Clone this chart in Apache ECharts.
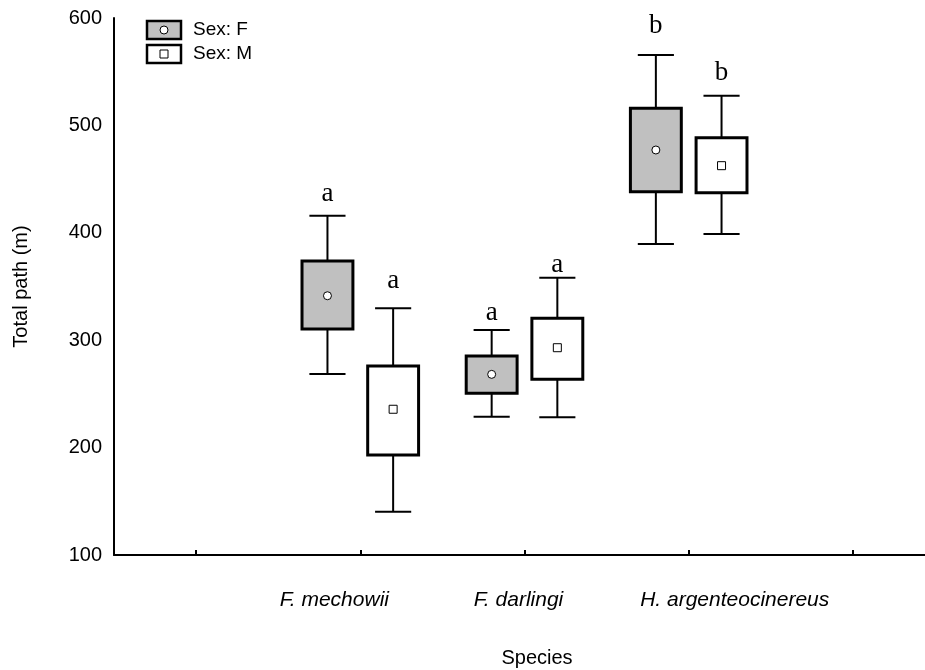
<!DOCTYPE html>
<html>
<head>
<meta charset="utf-8">
<script src="https://cdn.jsdelivr.net/npm/echarts@6/dist/echarts.min.js"></script>
<style>html,body{margin:0;padding:0;background:#fff}#c{width:925px;height:670px}</style>
</head>
<body>
<div id="c"></div>
<script>
// categories (outer empty slots carry the extra axis ticks)
const categories = ['', 'F. mechowii', 'F. darlingi', 'H. argenteocinereus', ''];
const yTicks = [100, 200, 300, 400, 500, 600];

// Sex: F  (whisker low, box low, centre, box high, whisker high)
const fLow     = [268.5, 228.8, 389.6];
const fBoxLow  = [310.4, 250.5, 438.3];
const fMid     = [341.4, 268.2, 477.1];
const fBoxHigh = [373.7, 285.3, 515.9];
const fHigh    = [415.9, 309.5, 565.5];
const fLetters = ['a', 'a', 'b'];
const fLetterY = [429.6, 318.8, 586.0];

// Sex: M
const mLow     = [140.3, 228.2, 398.9];
const mBoxLow  = [193.1, 263.6, 437.4];
const mMid     = [235.7, 293.0, 462.5];
const mBoxHigh = [276.0, 320.4, 488.6];
const mHigh    = [329.7, 358.2, 527.7];
const mLetters = ['a', 'a', 'b'];
const mLetterY = [348.6, 363.5, 542.3];

const SANS = "'Liberation Sans', Arial, sans-serif";
const SERIF = "'Liberation Serif', 'Times New Roman', serif";

function buildData(low, bl, mid, bh, high, letY) {
  return low.map((v, i) => [i + 1, low[i], bl[i], mid[i], bh[i], high[i], letY[i]]);
}

function makeRender(sign, fill, markerType, letters) {
  return function (params, api) {
    const cat = api.value(0);
    const band = api.size([1, 0])[0];
    const cx = api.coord([cat, 0])[0] + sign * band * 0.2;
    const yLow = api.coord([cat, api.value(1)])[1];
    const yBL = api.coord([cat, api.value(2)])[1];
    const yMid = api.coord([cat, api.value(3)])[1];
    const yBH = api.coord([cat, api.value(4)])[1];
    const yHigh = api.coord([cat, api.value(5)])[1];
    const yLet = api.coord([cat, api.value(6)])[1];
    const bw = band * 0.31;
    const cw = band * 0.22;
    const lineStyle = { stroke: '#000', lineWidth: 2 };
    const children = [
      { type: 'line', shape: { x1: cx, y1: yHigh, x2: cx, y2: yBH }, style: lineStyle },
      { type: 'line', shape: { x1: cx, y1: yBL, x2: cx, y2: yLow }, style: lineStyle },
      { type: 'line', shape: { x1: cx - cw / 2, y1: yHigh, x2: cx + cw / 2, y2: yHigh }, style: lineStyle },
      { type: 'line', shape: { x1: cx - cw / 2, y1: yLow, x2: cx + cw / 2, y2: yLow }, style: lineStyle },
      { type: 'rect', shape: { x: cx - bw / 2, y: yBH, width: bw, height: yBL - yBH },
        style: { fill: fill, stroke: '#000', lineWidth: 3 } }
    ];
    if (markerType === 'circle') {
      children.push({ type: 'circle', shape: { cx: cx, cy: yMid, r: 4 },
        style: { fill: '#fff', stroke: '#000', lineWidth: 1 } });
    } else {
      children.push({ type: 'rect', shape: { x: cx - 4, y: yMid - 4, width: 8, height: 8 },
        style: { fill: '#fff', stroke: '#000', lineWidth: 1 } });
    }
    // baseline of the letter sits at the data value (text box bottom includes descent)
    children.push({ type: 'text', x: cx, y: yLet + 6,
      style: { text: letters[params.dataIndex], font: '27px ' + SERIF, fill: '#000',
               align: 'center', verticalAlign: 'bottom' } });
    return { type: 'group', children: children };
  };
}

const labelShift = { 'F. mechowii': [0, 52, 0, 0], 'F. darlingi': [0, 12, 0, 0], 'H. argenteocinereus': [0, 0, 0, 92] };
const rich = {};
categories.forEach((c, i) => {
  rich['c' + i] = { fontFamily: SANS, fontStyle: 'italic', fontSize: 21, color: '#000',
                   padding: labelShift[c] || [0, 0, 0, 0] };
});

const chart = echarts.init(document.getElementById('c'), null, { renderer: 'canvas' });
chart.setOption({
  animation: false,
  backgroundColor: '#fff',
  grid: { left: 114, top: 18, width: 821, height: 537, containLabel: false, outerBoundsMode: 'none' },
  xAxis: {
    type: 'category',
    data: categories,
    boundaryGap: true,
    name: 'Species',
    nameLocation: 'middle',
    nameGap: 93,
    nameTextStyle: { fontFamily: SANS, fontSize: 20, color: '#000', padding: [0, 0, 0, 25] },
    axisLine: { show: true, lineStyle: { color: '#000', width: 2 } },
    axisTick: { show: true, alignWithLabel: true, inside: true, length: 5, lineStyle: { color: '#000', width: 2 } },
    axisLabel: {
      interval: 0, margin: 35, color: '#000',
      formatter: (v, i) => v ? '{c' + i + '|' + v + '}' : '',
      rich: rich
    },
    splitLine: { show: false }
  },
  yAxis: {
    type: 'value',
    min: yTicks[0], max: yTicks[yTicks.length - 1], interval: 100,
    name: 'Total path (m)',
    nameLocation: 'middle',
    nameRotate: 90,
    nameGap: 83,
    nameTextStyle: { fontFamily: SANS, fontSize: 20, color: '#000' },
    axisLine: { show: true, lineStyle: { color: '#000', width: 2 } },
    axisTick: { show: false },
    axisLabel: { fontFamily: SANS, fontSize: 20, color: '#000', margin: 12 },
    splitLine: { show: false }
  },
  series: [
    { name: 'Sex: F', type: 'custom', renderItem: makeRender(-1, '#c0c0c0', 'circle', fLetters),
      encode: { x: 0, y: [1, 5] }, data: buildData(fLow, fBoxLow, fMid, fBoxHigh, fHigh, fLetterY), clip: false },
    { name: 'Sex: M', type: 'custom', renderItem: makeRender(1, '#fff', 'square', mLetters),
      encode: { x: 0, y: [1, 5] }, data: buildData(mLow, mBoxLow, mMid, mBoxHigh, mHigh, mLetterY), clip: false }
  ],
  graphic: [
    { type: 'rect', shape: { x: 147, y: 21, width: 34, height: 18 }, style: { fill: '#c0c0c0', stroke: '#000', lineWidth: 2.5 } },
    { type: 'circle', shape: { cx: 164, cy: 30, r: 4 }, style: { fill: '#fff', stroke: '#000', lineWidth: 1 } },
    { type: 'text', x: 193, y: 30, style: { text: 'Sex: F', font: '19px ' + SANS, fill: '#000', verticalAlign: 'middle' } },
    { type: 'rect', shape: { x: 147, y: 45, width: 34, height: 18 }, style: { fill: '#fff', stroke: '#000', lineWidth: 2.5 } },
    { type: 'rect', shape: { x: 160, y: 50, width: 8, height: 8 }, style: { fill: '#fff', stroke: '#000', lineWidth: 1 } },
    { type: 'text', x: 193, y: 54, style: { text: 'Sex: M', font: '19px ' + SANS, fill: '#000', verticalAlign: 'middle' } }
  ]
});
</script>
</body>
</html>
